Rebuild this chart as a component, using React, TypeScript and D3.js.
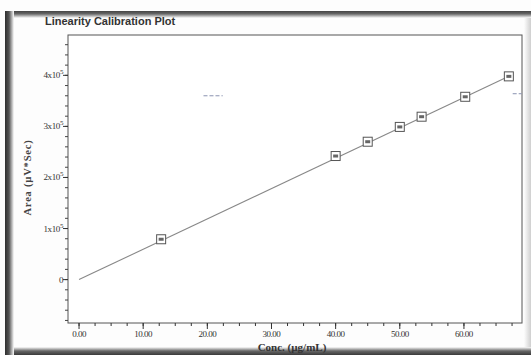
import React, { useEffect, useRef } from 'react';
import * as d3 from 'd3';

// concentration (µg/mL) and peak area (µV*Sec)
const conc = [12.8, 40, 45, 50, 53.4, 60.2, 67];
const area = [79000, 242000, 270000, 299000, 319000, 358000, 398000];

// calibration line end points
const fitX = [0, 67];
const fitY = [0, 398000];

const xTicks = [0, 10, 20, 30, 40, 50, 60];
const xTickLabels = ['0.00', '10.00', '20.00', '30.00', '40.00', '50.00', '60.00'];
const yTicks = [0, 100000, 200000, 300000, 400000];
const yTickLabels = ['0', '1x10', '2x10', '3x10', '4x10'];

// stray dashes on the scan (x0, x1, y)
const strays = [
  [19.4, 22.4, 360000],
  [67.6, 69, 364000],
];

function App() {
  const ref = useRef<SVGSVGElement | null>(null);

  useEffect(() => {
    const width = 531;
    const height = 355;
    const svg = d3.select(ref.current);
    svg.selectAll('*').remove();

    const left = 68, right = 522, top = 35, bottom = 323;

    const x = d3.scaleLinear().domain([-1.72, 69.05]).range([left, right]);
    const y = d3.scaleLinear().domain([-85000, 479000]).range([bottom, top]);

    // page background + scan frame
    svg.append('rect').attr('width', width).attr('height', height).attr('fill', '#fdfdfd');

    const defs = svg.append('defs');
    const gl = defs.append('linearGradient').attr('id', 'gl').attr('x1', 0).attr('x2', 1);
    gl.append('stop').attr('offset', 0).attr('stop-color', '#2e2e2e');
    gl.append('stop').attr('offset', 0.45).attr('stop-color', '#555');
    gl.append('stop').attr('offset', 1).attr('stop-color', '#fdfdfd');
    const gt = defs.append('linearGradient').attr('id', 'gt').attr('x1', 0).attr('x2', 0).attr('y1', 0).attr('y2', 1);
    gt.append('stop').attr('offset', 0).attr('stop-color', '#444');
    gt.append('stop').attr('offset', 0.4).attr('stop-color', '#666');
    gt.append('stop').attr('offset', 1).attr('stop-color', '#fdfdfd');
    const gb = defs.append('linearGradient').attr('id', 'gb').attr('x1', 0).attr('x2', 0).attr('y1', 1).attr('y2', 0);
    gb.append('stop').attr('offset', 0).attr('stop-color', '#3a3a3a');
    gb.append('stop').attr('offset', 0.5).attr('stop-color', '#666');
    gb.append('stop').attr('offset', 1).attr('stop-color', '#fdfdfd');
    const gr = defs.append('linearGradient').attr('id', 'gr').attr('x1', 1).attr('x2', 0);
    gr.append('stop').attr('offset', 0).attr('stop-color', '#cfcfcf');
    gr.append('stop').attr('offset', 1).attr('stop-color', '#fdfdfd');

    svg.append('rect').attr('x', 6).attr('y', 11).attr('width', width - 6).attr('height', 7).attr('fill', 'url(#gt)');
    svg.append('rect').attr('x', 6).attr('y', 347).attr('width', width - 6).attr('height', 8).attr('fill', 'url(#gb)');
    svg.append('rect').attr('x', 5).attr('y', 11).attr('width', 9).attr('height', height - 11).attr('fill', 'url(#gl)');
    svg.append('rect').attr('x', 524).attr('y', 18).attr('width', 7).attr('height', 329).attr('fill', 'url(#gr)');

    // plot area
    svg.append('rect')
      .attr('x', left).attr('y', top)
      .attr('width', right - left).attr('height', bottom - top)
      .attr('fill', '#fff')
      .attr('stroke', '#555')
      .attr('stroke-width', 1);

    // title
    svg.append('text')
      .attr('x', 45).attr('y', 25)
      .attr('font-family', 'Liberation Sans, Arial, sans-serif')
      .attr('font-weight', 'bold')
      .attr('font-size', 11)
      .attr('fill', '#333')
      .text('Linearity Calibration Plot');

    // x axis ticks
    const xg = svg.append('g');
    xg.selectAll('line.minor')
      .data(d3.range(0, 68, 2.5))
      .join('line')
      .attr('x1', d => x(d)).attr('x2', d => x(d))
      .attr('y1', bottom).attr('y2', bottom + 3)
      .attr('stroke', '#333');
    xg.selectAll('line.major')
      .data(xTicks)
      .join('line')
      .attr('x1', d => x(d)).attr('x2', d => x(d))
      .attr('y1', bottom).attr('y2', bottom + 6)
      .attr('stroke', '#333');
    xg.selectAll('text')
      .data(xTicks)
      .join('text')
      .attr('x', d => x(d)).attr('y', 337)
      .attr('text-anchor', 'middle')
      .attr('font-family', 'Liberation Serif, Times New Roman, serif')
      .attr('font-size', 9)
      .attr('letter-spacing', -0.5)
      .attr('fill', '#333')
      .text((d, i) => xTickLabels[i]);

    // y axis ticks
    const yg = svg.append('g');
    yg.selectAll('line.minor')
      .data(d3.range(-80000, 480000, 20000))
      .join('line')
      .attr('x1', left - 3).attr('x2', left)
      .attr('y1', d => y(d)).attr('y2', d => y(d))
      .attr('stroke', '#444');
    yg.selectAll('line.major')
      .data(yTicks)
      .join('line')
      .attr('x1', left - 5).attr('x2', left)
      .attr('y1', d => y(d)).attr('y2', d => y(d))
      .attr('stroke', '#333');
    const yl = yg.selectAll('text')
      .data(yTicks)
      .join('text')
      .attr('x', left - 5).attr('y', d => y(d) + 3)
      .attr('text-anchor', 'end')
      .attr('font-family', 'Liberation Serif, Times New Roman, serif')
      .attr('font-size', 9)
      .attr('letter-spacing', -0.4)
      .attr('fill', '#333');
    yl.each(function (d, i) {
      const t = d3.select(this);
      t.append('tspan').text(yTickLabels[i]);
      if (d !== 0) {
        t.append('tspan').attr('dy', -4).attr('font-size', 7).text('5');
      }
    });

    // axis titles
    svg.append('text')
      .attr('transform', `translate(31,${(137 + 218) / 2}) rotate(-90)`)
      .attr('text-anchor', 'middle')
      .attr('font-family', 'Liberation Serif, Times New Roman, serif')
      .attr('font-weight', 'bold')
      .attr('font-size', 10.5)
      .attr('letter-spacing', 0.8)
      .attr('fill', '#444')
      .text('Area (µV*Sec)');
    svg.append('text')
      .attr('x', 292).attr('y', 351)
      .attr('text-anchor', 'middle')
      .attr('font-family', 'Liberation Serif, Times New Roman, serif')
      .attr('font-weight', 'bold')
      .attr('font-size', 11)
      .attr('fill', '#333')
      .text('Conc. (µg/mL)');

    // calibration line
    const line = d3.line<number>()
      .x((d, i) => x(fitX[i]))
      .y(d => y(d));
    svg.append('path')
      .datum(fitY)
      .attr('d', line)
      .attr('fill', 'none')
      .attr('stroke', '#888')
      .attr('stroke-width', 1.1);

    // markers
    const pts = conc.map((c, i) => ({ c, a: area[i] }));
    const mk = svg.append('g').selectAll('g')
      .data(pts)
      .join('g')
      .attr('transform', d => `translate(${x(d.c)},${y(d.a)})`);
    mk.append('rect')
      .attr('x', -4.5).attr('y', -4.5)
      .attr('width', 9).attr('height', 9)
      .attr('fill', '#fff')
      .attr('stroke', '#555')
      .attr('stroke-width', 1);
    mk.append('rect')
      .attr('x', -2.5).attr('y', -1.5)
      .attr('width', 5).attr('height', 3)
      .attr('fill', '#666');

    // stray dashes
    svg.append('g').selectAll('line')
      .data(strays)
      .join('line')
      .attr('x1', d => x(d[0])).attr('x2', d => x(d[1]))
      .attr('y1', d => y(d[2])).attr('y2', d => y(d[2]))
      .attr('stroke', '#8a93b0')
      .attr('stroke-width', 1)
      .attr('stroke-dasharray', '4,2');
  });

  return (
    <svg
      ref={ref}
      width={531}
      height={355}
      style={{ position: 'absolute', left: 0, top: 0, display: 'block' }}
    />
  );
}

export default App;
